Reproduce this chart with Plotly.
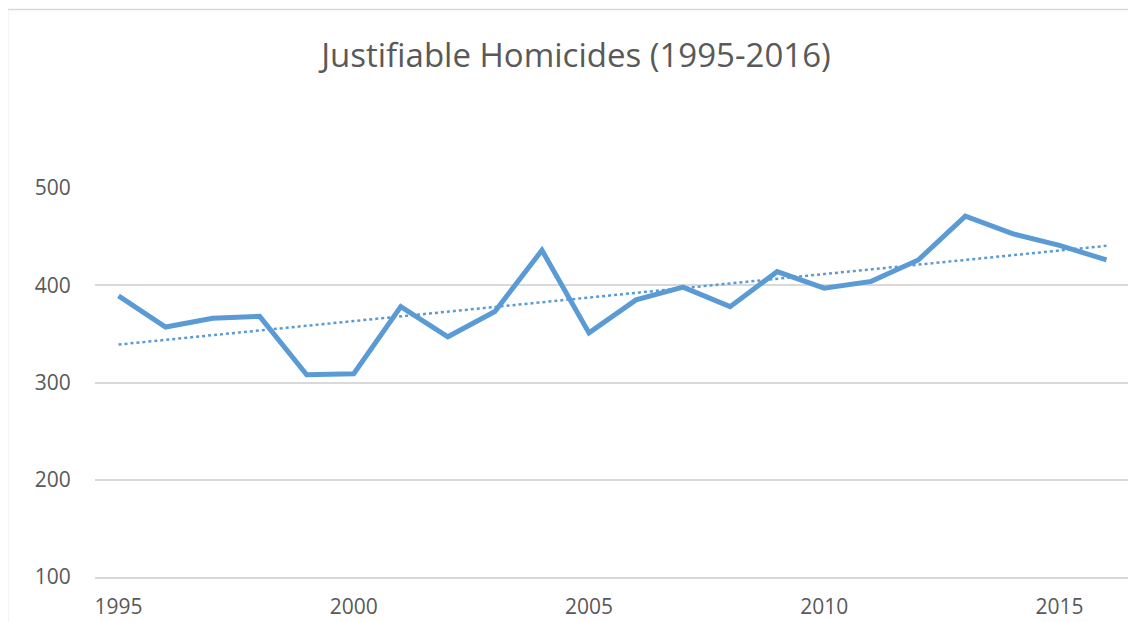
import numpy as np
import plotly.graph_objects as go

years = list(range(1995, 2017))
homicides = [389, 357, 366, 368, 308, 309, 378, 347, 373, 436, 351,
             385, 398, 378, 414, 397, 404, 426, 471, 453, 441, 426]
y_ticks = [100, 200, 300, 400, 500]
x_ticks = [1995, 2000, 2005, 2010, 2015]
title_text = "Justifiable Homicides (1995-2016)"

# Linear trendline (as Excel computes it)
coef = np.polyfit(years, homicides, 1)
trend = list(np.polyval(coef, years))

# page body has an 8px margin; size the figure to fill the rest of the window
OFF = 8
W, H = 1136 - OFF, 622 - OFF
ML, MR, MT, MB = 95 - OFF, 6, 188 - OFF, 45 - OFF + 8
pw, ph = W - ML - MR, H - MT - MB

def px_x(px):
    return (px - OFF - ML) / pw

def px_y(py):
    return (H - MB - (py - OFF)) / ph

blue = "#5B9BD5"
grid = "#D9D9D9"
txt = "#595959"

fig = go.Figure()
fig.add_trace(go.Scatter(x=years, y=homicides, mode="lines",
                         line=dict(color=blue, width=5, shape="linear"),
                         showlegend=False, hoverinfo="x+y"))
fig.add_trace(go.Scatter(x=years, y=trend, mode="lines",
                         line=dict(color=blue, width=2.5, dash="dot"),
                         showlegend=False, hoverinfo="skip"))

fig.update_layout(
    width=W, height=H,
    margin=dict(l=ML, r=MR, t=MT, b=MB, pad=0, autoexpand=False),
    paper_bgcolor="white", plot_bgcolor="white",
    font=dict(family="Open Sans, Lato, sans-serif", color=txt),
    title=dict(text=title_text, x=px_x(576), xanchor="center", xref="paper",
               y=1 - (55 - OFF) / H, yanchor="middle",
               font=dict(size=33, color=txt, family="Open Sans, sans-serif")),
    xaxis=dict(range=[1994.5, 2016.5], tickmode="array", tickvals=x_ticks,
               ticktext=[str(v) for v in x_ticks], showgrid=False,
               zeroline=False, showline=True, linecolor=grid, linewidth=1.5,
               ticks="outside", ticklen=10, tickcolor="rgba(0,0,0,0)",
               tickfont=dict(size=21, color=txt), automargin=False),
    yaxis=dict(range=[100, 500], tickmode="array", tickvals=y_ticks,
               showgrid=True, gridcolor=grid, gridwidth=1.5, zeroline=False,
               showline=False, ticks="outside", ticklen=19,
               tickcolor="rgba(0,0,0,0)", tickfont=dict(size=21, color=txt),
               automargin=False),
    shapes=[dict(type="rect", xref="paper", yref="paper",
                 x0=px_x(7.5), x1=px_x(1150), y0=px_y(650), y1=px_y(9.5),
                 line=dict(color=grid, width=1.5), fillcolor="rgba(0,0,0,0)",
                 layer="below")],
)

fig.write_html("out.html")
